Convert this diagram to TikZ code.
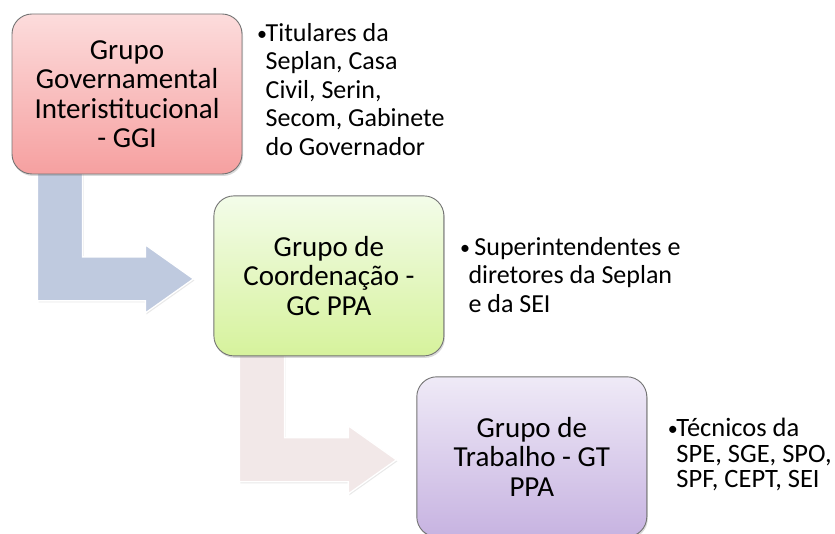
\documentclass[tikz,border=0pt]{standalone}
\usepackage{fontspec}
\setmainfont{Carlito}
\usetikzlibrary{positioning,calc,shadows,backgrounds}

\definecolor{ggitop}{HTML}{FCDCDC}
\definecolor{ggibot}{HTML}{F6A0A0}
\definecolor{gctop}{HTML}{F3FCE9}
\definecolor{gcbot}{HTML}{D6F29C}
\definecolor{gttop}{HTML}{EFEAF7}
\definecolor{gtbot}{HTML}{C7B3E1}
\definecolor{arrblue}{HTML}{BFCADF}
\definecolor{arrpink}{HTML}{F2E8E8}

\newcommand{\bul}{\makebox[8.5pt][l]{\raisebox{0.8pt}{\fontsize{20}{20}\selectfont\textbullet}}}
% bent block arrow: from box #1 down and right into box #2
\newcommand{\bentarrow}[3]{%
  \path[fill=#3, draw=white, line width=1.3pt,
        drop shadow={opacity=0.18, shadow xshift=1pt, shadow yshift=-1.5pt}]
    let \p1 = ($(#1.south west)+(26,0)$), \p2 = ($(#2.west)+(-20,3)$) in
    (\x1,\y1+30pt) -- (\x1,\y2-22pt) -- (\x2-48pt,\y2-22pt) -- (\x2-48pt,\y2-34pt)
    -- (\x2,\y2) -- (\x2-48pt,\y2+34pt) -- (\x2-48pt,\y2+22pt)
    -- (\x1+45pt,\y2+22pt) -- (\x1+45pt,\y1+30pt) -- cycle;
}

\begin{document}
\begin{tikzpicture}[x=1pt, y=-1pt,
    grupo/.style = {draw=black!55, line width=0.9pt, rounded corners=20pt,
      minimum width=230pt, minimum height=160pt, align=center,
      font=\fontsize{29}{29.5}\selectfont,
      drop shadow={opacity=0.3, shadow xshift=1pt, shadow yshift=-2pt}},
    info/.style = {inner sep=0pt, font=\fontsize{26}{28.5}\selectfont}]
  \useasboundingbox (0,0) rectangle (835,534);

  \node[grupo, top color=ggitop, bottom color=ggibot] (ggi) at (127,94)
    {Grupo\\Governamental\\Interistitucional\\- GGI};
  \node[grupo, top color=gctop, bottom color=gcbot] (gc) [below right=21pt and -29pt of ggi]
    {Grupo de\\Coordenação -\\GC PPA};
  \node[grupo, top color=gttop, bottom color=gtbot] (gt) [below right=20pt and -28pt of gc]
    {Grupo de\\Trabalho - GT\\PPA};

  \node[info] (ggitxt) [right=14.5pt of ggi, yshift=1.5pt]
    {\begin{tabular}{@{}l@{}l@{}}
      \bul & Titulares da\\ & Seplan, Casa\\ & Civil, Serin,\\ & Secom, Gabinete\\ & do Governador
    \end{tabular}};
  \node[info] (gctxt) [right=15.5pt of gc, yshift=-2pt]
    {\begin{tabular}{@{}l@{}l@{}}
      \bul & \ Superintendentes e\\ & diretores da Seplan\\ & e da SEI
    \end{tabular}};
  \node[info, font=\fontsize{26.5}{25.8}\selectfont] (gttxt) [right=20.5pt of gt]
    {\begin{tabular}{@{}l@{}l@{}}
      \bul & Técnicos da\\ & SPE, SGE, SPO,\\ & SPF, CEPT, SEI
    \end{tabular}};

  \begin{pgfonlayer}{background}
    \bentarrow{ggi}{gc}{arrblue}
    \bentarrow{gc}{gt}{arrpink}
  \end{pgfonlayer}
\end{tikzpicture}
\end{document}
